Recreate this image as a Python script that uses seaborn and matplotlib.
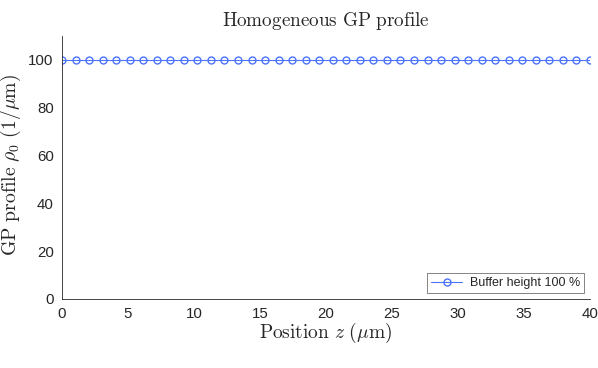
import matplotlib
matplotlib.use("Agg")
import matplotlib.pyplot as plt
import pandas as pd
import seaborn as sns

# positions (um) and GP profile values
z_pos = [0.00, 1.03, 2.05, 3.08, 4.10, 5.13, 6.15, 7.18, 8.21, 9.23,
         10.26, 11.28, 12.31, 13.33, 14.36, 15.38, 16.41, 17.44, 18.46, 19.49,
         20.51, 21.54, 22.56, 23.59, 24.62, 25.64, 26.67, 27.69, 28.72, 29.74,
         30.77, 31.79, 32.82, 33.85, 34.87, 35.90, 36.92, 37.95, 38.97, 40.00]
rho0 = [100] * 40
series_label = "Buffer height 100 %"

x_ticks = [0, 5, 10, 15, 20, 25, 30, 35, 40]
y_ticks = [0, 20, 40, 60, 80, 100]

df = pd.DataFrame({"z": z_pos, "rho": rho0, "series": series_label})

sns.set_style("white")
plt.rcParams["font.family"] = ["Liberation Sans", "DejaVu Sans"]
plt.rcParams["mathtext.fontset"] = "cm"

line_col = (0.30, 0.45, 1.0)
axis_col = "#262626"

fig = plt.figure(figsize=(5.98, 3.68), dpi=100)
ax = fig.add_axes([62 / 598, 1 - 299 / 368, 528 / 598, 263 / 368])

sns.lineplot(data=df, x="z", y="rho", hue="series", palette=[line_col],
             marker="o", markersize=5, markerfacecolor="none",
             markeredgecolor=line_col, markeredgewidth=1.0,
             linewidth=0.8, ax=ax)

ax.set_xlim(0, 40)
ax.set_ylim(0, 110)
ax.set_xticks(x_ticks)
ax.set_yticks(y_ticks)
ax.tick_params(direction="in", length=4, width=0.6, colors=axis_col,
               labelsize=10.8, pad=6)
for s in ["top", "right"]:
    ax.spines[s].set_visible(False)
for s in ["left", "bottom"]:
    ax.spines[s].set_color(axis_col)
    ax.spines[s].set_linewidth(0.6)

ax.set_title(r"$\mathrm{Homogeneous\ GP\ profile}$", fontsize=13.8, pad=7)
ax.set_xlabel(r"$\mathrm{Position}\ z\ (\mu\mathrm{m})$", fontsize=14, labelpad=0)
ax.set_ylabel(r"$\mathrm{GP\ profile}\ \rho_0\ (1/\mu\mathrm{m})$", fontsize=14.2)
ax.yaxis.set_label_coords(-0.074, 0.51)

leg = ax.legend(loc="lower right", fontsize=9, frameon=True, fancybox=False,
                borderpad=0.3, handlelength=2.5, handletextpad=0.6,
                borderaxespad=0.5)
leg.get_frame().set_edgecolor("#262626")
leg.get_frame().set_linewidth(0.5)

fig.savefig("out.png", dpi=100)
